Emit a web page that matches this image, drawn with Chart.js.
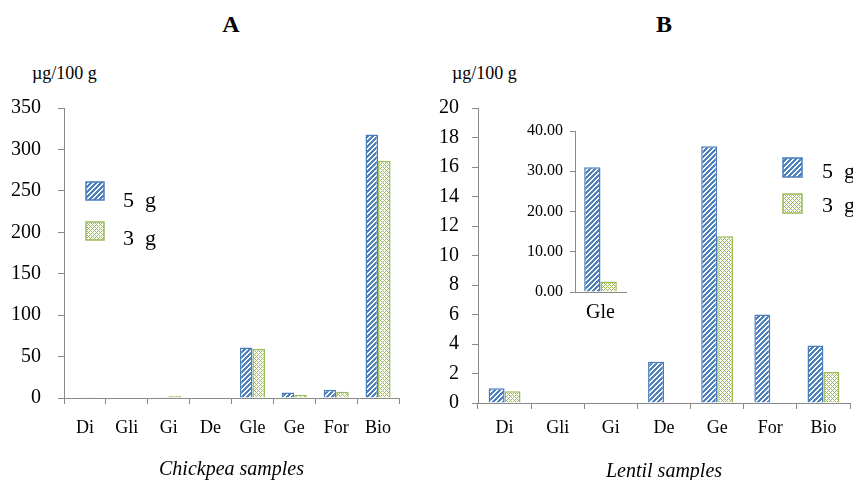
<!DOCTYPE html>
<html>
<head>
<meta charset="utf-8">
<script src="https://cdn.jsdelivr.net/npm/chart.js@4"></script>
<style>
  body { margin: 0; background: #fff; }
  #wrap { position: relative; width: 853px; height: 480px; font-family: 'Liberation Serif', 'Times New Roman', serif; color: #000; }
  canvas { position: absolute; }
  .lbl { position: absolute; white-space: nowrap; line-height: 1; }
  .ttl { font-size: 24px; font-weight: bold; transform: translateX(-50%); top: 12px; }
  .unit { font-size: 18px; top: 64px; }
</style>
</head>
<body>
<div id="wrap">
  <div class="lbl ttl" style="left:231px">A</div>
  <div class="lbl ttl" style="left:664px">B</div>
  <div class="lbl unit" style="left:32px">µg/100 g</div>
  <div class="lbl unit" style="left:452px">µg/100 g</div>
  <canvas id="chartA" width="426" height="480" style="left:0;top:0"></canvas>
  <canvas id="chartB" width="427" height="480" style="left:426px;top:0"></canvas>
  <canvas id="chartInset" width="130" height="220" style="left:515px;top:110px"></canvas>
</div>
<script>
// Data
const seriesNames = ['5  g', '3  g'];

const chickpeaLabels = ['Di', 'Gli', 'Gi', 'De', 'Gle', 'Ge', 'For', 'Bio'];
const chickpea5g = [0, 0, 1, 0, 61, 6.5, 10, 318];
const chickpea3g = [0.8, 0, 2.5, 0, 59, 4, 7.5, 286];
const chickpeaTicks = [0, 50, 100, 150, 200, 250, 300, 350];

const lentilLabels = ['Di', 'Gli', 'Gi', 'De', 'Ge', 'For', 'Bio'];
const lentil5g = [1.0, 0, 0, 2.8, 17.4, 6.0, 3.9];
const lentil3g = [0.8, 0, 0, 0, 11.3, 0, 2.1];
const lentilTicks = [0, 2, 4, 6, 8, 10, 12, 14, 16, 18, 20];

const insetLabels = ['Gle'];
const lentilGle5g = [31.0];
const lentilGle3g = [2.6];
const insetTicks = [0, 10, 20, 30, 40];

Chart.defaults.font.family = "'Liberation Serif', 'Times New Roman', serif";
Chart.defaults.color = '#000';
Chart.defaults.animation = false;

const gray = '#8a8a8a';
const blue = '#4A7EBB';
const green = '#9BBB59';

// fill patterns
function makeStripes() {
    const c = document.createElement('canvas');
    c.width = 5; c.height = 5;
    const x = c.getContext('2d');
    x.fillStyle = '#4F81BD';
    x.fillRect(0, 0, 5, 5);
    x.fillStyle = '#fff';
    for (let i = 0; i < 5; i++)
        for (let j = 0; j < 5; j++)
            if ((i + j) % 5 < 2) x.fillRect(i, j, 1, 1);
    return x.createPattern(c, 'repeat');
}

function makeChecks() {
    const c = document.createElement('canvas');
    c.width = 4; c.height = 4;
    const x = c.getContext('2d');
    x.fillStyle = '#fff';
    x.fillRect(0, 0, 4, 4);
    x.fillStyle = green;
    for (let i = 0; i < 4; i++)
        for (let j = 0; j < 4; j++)
            if ((i + j) % 4 === 0 || (i - j + 4) % 4 === 0) x.fillRect(i, j, 1, 1);
    return x.createPattern(c, 'repeat');
}

const stripes = makeStripes();
const checks = makeChecks();

function datasets(d5, d3, pct) {
    return [{
        label: seriesNames[0],
        data: d5,
        backgroundColor: stripes,
        borderColor: blue,
        borderWidth: 1.5,
        categoryPercentage: pct,
        barPercentage: 1,
    }, {
        label: seriesNames[1],
        data: d3,
        backgroundColor: checks,
        borderColor: green,
        borderWidth: 1.5,
        categoryPercentage: pct,
        barPercentage: 1,
    }];
}

// legend drawn at fixed spots
function makeLegend(items) {
    return {
        id: 'boxLegend',
        afterDraw(chart) {
            const ctx = chart.ctx;
            chart.data.datasets.forEach((ds, i) => {
                const it = items[i];
                ctx.save();
                ctx.fillStyle = ds.backgroundColor;
                ctx.fillRect(it.x, it.y, it.s, it.s);
                ctx.strokeStyle = ds.borderColor;
                ctx.lineWidth = 1.5;
                ctx.strokeRect(it.x, it.y, it.s, it.s);
                ctx.fillStyle = '#000';
                ctx.font = "22px 'Liberation Serif', 'Times New Roman', serif";
                ctx.textBaseline = 'alphabetic';
                ctx.fillText(ds.label, it.tx, it.ty);
                ctx.restore();
            });
        }
    };
}

function scales(o) {
    const ticks = o.ticks;
    return {
        x: {
            grid: { drawOnChartArea: false, drawTicks: o.xTick > 0, tickLength: o.xTick, color: gray },
            border: { color: gray },
            ticks: { font: { size: o.xFont }, padding: o.xPad, maxRotation: 0, autoSkip: false },
            title: o.title ? {
                display: true,
                text: o.title,
                font: { size: 20, style: 'italic', lineHeight: 1 },
                padding: { top: 0, bottom: o.titlePad }
            } : { display: false },
            afterFit(s) { s.height = o.xHeight; }
        },
        y: {
            min: ticks[0],
            max: ticks[ticks.length - 1],
            grid: { drawOnChartArea: false, tickLength: o.yTick, color: gray },
            border: { color: gray },
            ticks: {
                stepSize: ticks[1] - ticks[0],
                font: { size: o.yFont },
                padding: o.yPad,
                callback: o.fmt
            },
            afterFit(s) { s.width = o.yWidth; }
        }
    };
}

// Chickpea
const chartA = new Chart(document.getElementById('chartA'), {
    type: 'bar',
    data: { labels: chickpeaLabels, datasets: datasets(chickpea5g, chickpea3g, 0.6) },
    options: {
        responsive: false,
        layout: { padding: { left: 0, top: 108, right: 27, bottom: 0 } },
        plugins: { legend: { display: false }, tooltip: { enabled: false } },
        scales: scales({
            ticks: chickpeaTicks, yFont: 20, yPad: 17, yTick: 6, yWidth: 64,
            xFont: 18, xPad: 13, xTick: 6, xHeight: 82,
            title: 'Chickpea samples', titlePad: 0,
            fmt: v => v
        })
    },
    plugins: [makeLegend([
        { x: 86, y: 182, s: 18, tx: 123, ty: 207 },
        { x: 86, y: 222, s: 18, tx: 123, ty: 245 }
    ])]
});

// Lentil
const chartB = new Chart(document.getElementById('chartB'), {
    type: 'bar',
    data: { labels: lentilLabels, datasets: datasets(lentil5g, lentil3g, 0.6) },
    options: {
        responsive: false,
        layout: { padding: { left: 0, top: 108, right: 3, bottom: 0 } },
        plugins: { legend: { display: false }, tooltip: { enabled: false } },
        scales: scales({
            ticks: lentilTicks, yFont: 20, yPad: 13, yTick: 6, yWidth: 52,
            xFont: 18, xPad: 8, xTick: 6, xHeight: 77,
            title: 'Lentil samples', titlePad: -2,
            fmt: v => v
        })
    },
    plugins: [makeLegend([
        { x: 357, y: 158, s: 19, tx: 396, ty: 178 },
        { x: 357, y: 194, s: 19, tx: 396, ty: 212 }
    ])]
});

// Lentil Gle inset
const chartInset = new Chart(document.getElementById('chartInset'), {
    type: 'bar',
    data: { labels: insetLabels, datasets: datasets(lentilGle5g, lentilGle3g, 0.64) },
    options: {
        responsive: false,
        layout: { padding: { left: 0, top: 21, right: 19, bottom: 0 } },
        plugins: { legend: { display: false }, tooltip: { enabled: false } },
        scales: scales({
            ticks: insetTicks, yFont: 16, yPad: 7, yTick: 5, yWidth: 60,
            xFont: 20, xPad: 9, xTick: 0, xHeight: 38,
            title: null,
            fmt: v => v.toFixed(2)
        })
    }
});
</script>
</body>
</html>
